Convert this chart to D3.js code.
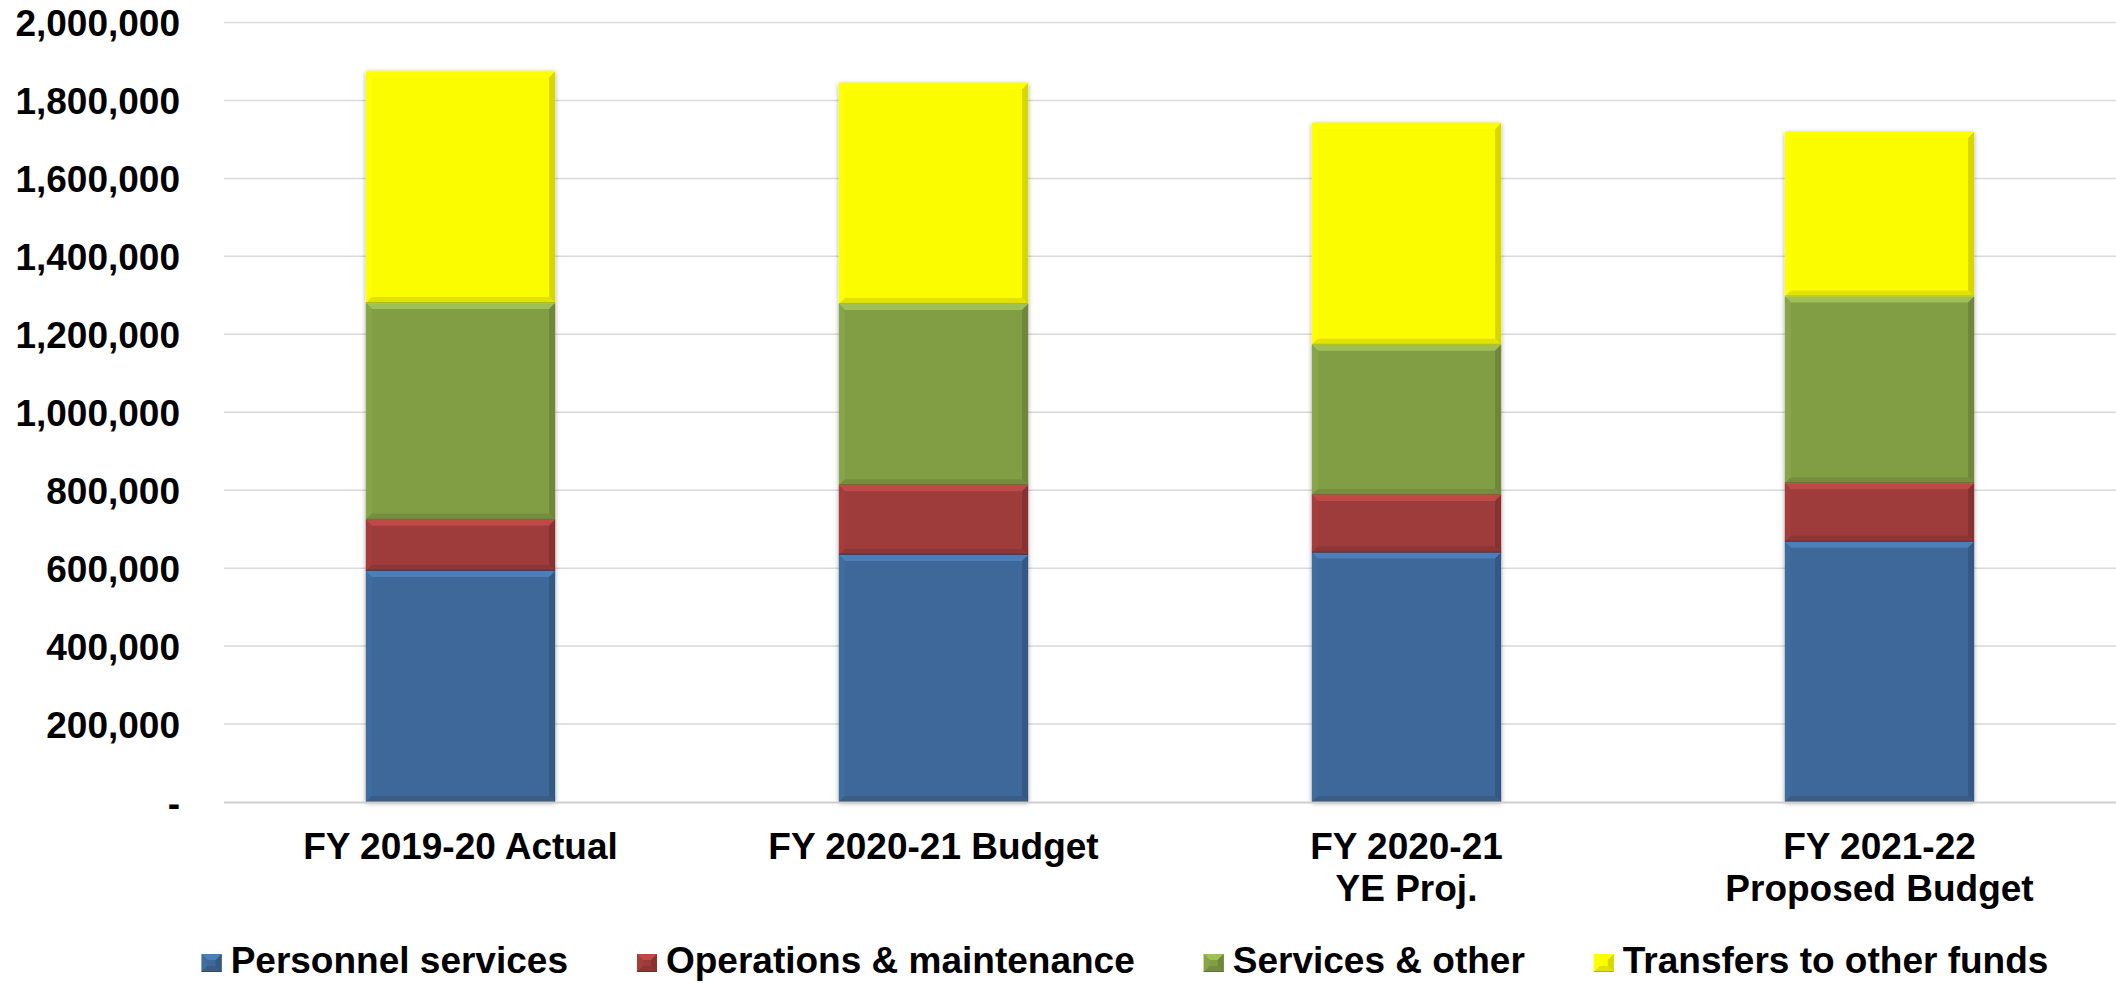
<!DOCTYPE html>
<html><head><meta charset="utf-8">
<script src="https://cdn.jsdelivr.net/npm/d3@7/dist/d3.min.js"></script>
<style>body{margin:0;background:#fff}svg{display:block}</style>
</head><body>
<svg id="c" width="2116" height="983"></svg>
<script>
// ---- data ----
const categories = ["FY 2019-20 Actual", "FY 2020-21 Budget", "FY 2020-21\nYE Proj.", "FY 2021-22\nProposed Budget"];
const seriesNames = ["Personnel services", "Operations & maintenance", "Services & other", "Transfers to other funds"];
const personnel  = [593000, 634000, 640000, 668000];
const operations = [131000, 179000, 148000, 150000];
const services   = [556000, 465000, 385000, 479000];
const transfers  = [594000, 566000, 569000, 422000];
const yTicks = [0, 200000, 400000, 600000, 800000, 1000000, 1200000, 1400000, 1600000, 1800000, 2000000];
const colors = ["#3e6899", "#9e3b3a", "#829e45", "#fcfc00"];

const seriesValues = [personnel, operations, services, transfers];
const rows = categories.map((c, i) => {
  const r = {cat: c};
  seriesNames.forEach((s, j) => r[s] = seriesValues[j][i]);
  return r;
});

const svg = d3.select("#c");
const FONT = "'Liberation Sans', Arial, sans-serif";
const plotL = 224, plotR = 2116, plotT = 22.5, plotB = 802;

const x = d3.scaleBand().domain(categories).range([plotL, plotR]).paddingInner(0.6).paddingOuter(0.3);
const y = d3.scaleLinear().domain([0, 2000000]).range([plotB, plotT]);

// defs: shadow
const defs = svg.append("defs");
const f = defs.append("filter").attr("id", "sh").attr("x", "-10%").attr("y", "-10%").attr("width", "120%").attr("height", "120%");
f.append("feGaussianBlur").attr("in", "SourceAlpha").attr("stdDeviation", 2.5).attr("result", "b");
f.append("feOffset").attr("in", "b").attr("dx", 0).attr("dy", 1).attr("result", "o");
f.append("feComponentTransfer").attr("in", "o").attr("result", "t")
  .append("feFuncA").attr("type", "linear").attr("slope", 0.35);
const fm = f.append("feMerge");
fm.append("feMergeNode").attr("in", "t");
fm.append("feMergeNode").attr("in", "SourceGraphic");

// gridlines
svg.append("g").selectAll("line").data(yTicks.filter(d => d > 0)).join("line")
  .attr("x1", plotL).attr("x2", plotR)
  .attr("y1", d => y(d)).attr("y2", d => y(d))
  .attr("stroke", "#d9d9d9").attr("stroke-width", 1.5);

// y axis labels
const yAxis = d3.axisLeft(y).tickValues(yTicks).tickSize(0).tickPadding(0)
  .tickFormat(d => d === 0 ? "-" : d3.format(",")(d));
const ya = svg.append("g").attr("transform", `translate(180,0)`).call(yAxis);
ya.select(".domain").remove();
ya.selectAll("text").attr("font-family", FONT).attr("font-weight", "bold").attr("font-size", 37)
  .attr("fill", "#000").attr("dy", null).attr("y", 13).attr("x", 0);

// stacked bars
const stack = d3.stack().keys(seriesNames)(rows);
const B = 6;
function bevel(g, x0, y0, w, h, col) {
  const c = d3.color(col);
  g.append("rect").attr("x", x0).attr("y", y0).attr("width", w).attr("height", h).attr("fill", col);
  const b = Math.min(B, h / 2, w / 2);
  const poly = (pts, fill) => g.append("polygon").attr("points", pts.map(p => p.join(",")).join(" ")).attr("fill", fill);
  poly([[x0, y0], [x0 + w, y0], [x0 + w - b, y0 + b], [x0 + b, y0 + b]], c.brighter(0.55).formatHex());
  poly([[x0, y0], [x0 + b, y0 + b], [x0 + b, y0 + h - b], [x0, y0 + h]], c.brighter(0.12).formatHex());
  poly([[x0 + w, y0], [x0 + w, y0 + h], [x0 + w - b, y0 + h - b], [x0 + w - b, y0 + b]], c.darker(0.45).formatHex());
  poly([[x0, y0 + h], [x0 + b, y0 + h - b], [x0 + w - b, y0 + h - b], [x0 + w, y0 + h]], c.darker(0.3).formatHex());
  g.append("line").attr("x1", x0).attr("x2", x0 + w).attr("y1", y0 + h - 0.5).attr("y2", y0 + h - 0.5)
    .attr("stroke", c.darker(0.9).formatHex()).attr("stroke-width", 1);
}
const barsG = svg.append("g");
categories.forEach((cat, i) => {
  const g = barsG.append("g").attr("filter", "url(#sh)");
  stack.forEach((layer, j) => {
    const d = layer[i];
    const y0 = y(d[1]), y1 = y(d[0]);
    bevel(g, x(cat), y0, x.bandwidth(), y1 - y0, colors[j]);
  });
});

// x axis line
svg.append("line").attr("x1", plotL).attr("x2", plotR).attr("y1", plotB + 0.5).attr("y2", plotB + 0.5)
  .attr("stroke", "#cfcfcf").attr("stroke-width", 2);

// x labels
const xa = svg.append("g");
categories.forEach(cat => {
  const t = xa.append("text").attr("x", x(cat) + x.bandwidth() / 2).attr("y", 859)
    .attr("text-anchor", "middle").attr("font-family", FONT).attr("font-weight", "bold").attr("font-size", 37);
  cat.split("\n").forEach((ln, k) => {
    t.append("tspan").attr("x", x(cat) + x.bandwidth() / 2).attr("dy", k === 0 ? 0 : 42).text(ln);
  });
});

// legend
const lg = svg.append("g");
const items = seriesNames.map((s, j) => {
  const g = lg.append("g");
  const t = g.append("text").attr("x", 29).attr("y", 973).attr("font-family", FONT).attr("font-weight", "bold")
    .attr("font-size", 37).text(s);
  const w = t.node().getComputedTextLength();
  const sg = g.append("g");
  bevel(sg, 0, 954, 20, 18, colors[j]);
  return {g, w: 29 + w};
});
const gap = 69;
const total = d3.sum(items, d => d.w) + gap * (items.length - 1);
let cx = 1125 - total / 2;
items.forEach(it => { it.g.attr("transform", `translate(${cx},0)`); cx += it.w + gap; });
</script>
</body></html>
